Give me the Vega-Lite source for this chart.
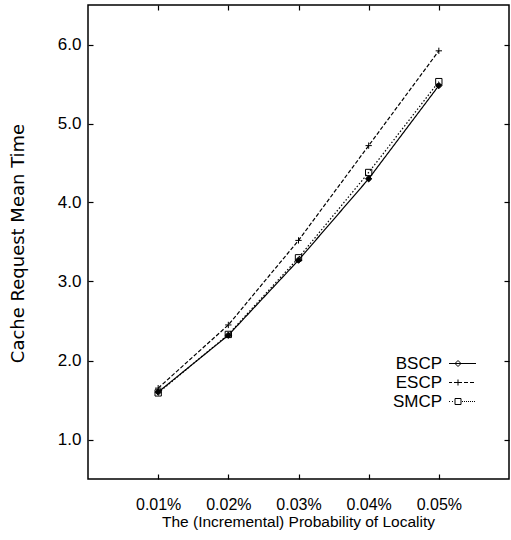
{
  "$schema": "https://vega.github.io/schema/vega-lite/v6.json",
  "width": 421,
  "height": 474,
  "autosize": {"type": "none"},
  "padding": {"left": 88, "top": 5, "right": 2, "bottom": 61},
  "background": "white",
  "config": {
    "view": {"stroke": "black", "strokeWidth": 1.5},
    "axis": {
      "domain": false,
      "grid": false,
      "tickColor": "black",
      "tickSize": -5,
      "tickWidth": 1.2,
      "labelColor": "black",
      "labelFont": "Liberation Sans, Arial, sans-serif",
      "labelFontSize": 17,
      "titleColor": "black",
      "titleFontWeight": "normal"
    }
  },
  "data": {
    "values": [
      {"p": 1, "series": "BSCP", "t": 1.6},
      {"p": 2, "series": "BSCP", "t": 2.32},
      {"p": 3, "series": "BSCP", "t": 3.27},
      {"p": 4, "series": "BSCP", "t": 4.3},
      {"p": 5, "series": "BSCP", "t": 5.48},
      {"p": 1, "series": "ESCP", "t": 1.65},
      {"p": 2, "series": "ESCP", "t": 2.45},
      {"p": 3, "series": "ESCP", "t": 3.52},
      {"p": 4, "series": "ESCP", "t": 4.72},
      {"p": 5, "series": "ESCP", "t": 5.92},
      {"p": 1, "series": "SMCP", "t": 1.59},
      {"p": 2, "series": "SMCP", "t": 2.33},
      {"p": 3, "series": "SMCP", "t": 3.3},
      {"p": 4, "series": "SMCP", "t": 4.38},
      {"p": 5, "series": "SMCP", "t": 5.53}
    ]
  },
  "layer": [
    {
      "mark": {"type": "line", "color": "black", "strokeWidth": 1.2},
      "encoding": {
        "x": {
          "field": "p",
          "type": "quantitative",
          "scale": {"domain": [0, 6], "nice": false, "zero": false},
          "axis": {
            "orient": "bottom",
            "values": [1, 2, 3, 4, 5],
            "labelExpr": "format(datum.value / 100, '.2f') + '%'",
            "labelPadding": 22,
            "labelFontSize": 16,
            "title": "The (Incremental) Probability of Locality",
            "titleFont": "Liberation Sans, Arial, sans-serif",
            "titleFontSize": 15.5,
            "titleBaseline": "top",
            "titleX": 210,
            "titleY": 35
          }
        },
        "y": {
          "field": "t",
          "type": "quantitative",
          "scale": {"domain": [0.5, 6.5], "nice": false, "zero": false},
          "axis": {
            "orient": "left",
            "values": [1, 2, 3, 4, 5, 6],
            "format": ".1f",
            "labelPadding": 12,
            "title": "Cache Request Mean Time",
            "titleFont": "DejaVu Sans, sans-serif",
            "titleFontSize": 18,
            "titleX": -61,
            "titleY": 238
          }
        },
        "strokeDash": {
          "field": "series",
          "type": "nominal",
          "scale": {"domain": ["BSCP", "ESCP", "SMCP"], "range": [[1, 0], [4, 2], [1.5, 2]]},
          "legend": null
        }
      }
    },
    {
      "mark": {"type": "point", "filled": true, "stroke": "black", "strokeWidth": 1, "opacity": 1},
      "encoding": {
        "x": {
          "field": "p",
          "type": "quantitative",
          "axis": {"orient": "top", "values": [1, 2, 3, 4, 5], "labels": false, "title": null}
        },
        "y": {
          "field": "t",
          "type": "quantitative",
          "axis": {"orient": "right", "values": [1, 2, 3, 4, 5, 6], "labels": false, "title": null}
        },
        "shape": {
          "field": "series",
          "type": "nominal",
          "scale": {
            "domain": ["BSCP", "ESCP", "SMCP"],
            "range": ["M0,-1L1,0L0,1L-1,0Z", "M-1,0H1M0,-1V1", "M-1,-1H1V1H-1Z"]
          },
          "legend": null
        },
        "size": {"value": 40},
        "fill": {
          "condition": {"test": "datum.series === 'BSCP'", "value": "black"},
          "value": "transparent"
        }
      }
    },
    {
      "transform": [{"filter": "false"}],
      "mark": {"type": "point", "filled": false, "color": "black", "strokeWidth": 1, "opacity": 1},
      "encoding": {
        "shape": {
          "field": "series",
          "type": "nominal",
          "scale": {
            "domain": ["BSCP", "ESCP", "SMCP"],
            "range": [
              "M-2.7,0H2.7M-0.9,-0.6L-0.3,0L-0.9,0.6L-1.5,0Z",
              "M-2.7,0H-2.1M-1.7,0H-0.1M0.3,0H1.1M1.5,0H2.3M-0.9,-0.6V0.6",
              "M-2.7,0H-2.5M-2.1,0H-1.9M-1.5,-0.6H-0.3V0.6H-1.5ZM-0.1,0H0.1M0.3,0H0.5M0.7,0H0.9M1.1,0H1.3M1.5,0H1.7M1.9,0H2.1M2.3,0H2.5"
            ]
          },
          "legend": {
            "title": null,
            "orient": "none",
            "legendX": 366,
            "legendY": 350,
            "padding": 0,
            "symbolSize": 100,
            "symbolStrokeColor": "black",
            "symbolStrokeWidth": 1,
            "symbolFillColor": "transparent",
            "labelAlign": "right",
            "labelOffset": -29,
            "labelFont": "Liberation Sans, Arial, sans-serif",
            "labelFontSize": 17,
            "labelColor": "black",
            "rowPadding": 1
          }
        },
        "size": {"value": 100}
      }
    }
  ],
  "resolve": {
    "scale": {"shape": "independent"},
    "axis": {"x": "independent", "y": "independent"}
  }
}
